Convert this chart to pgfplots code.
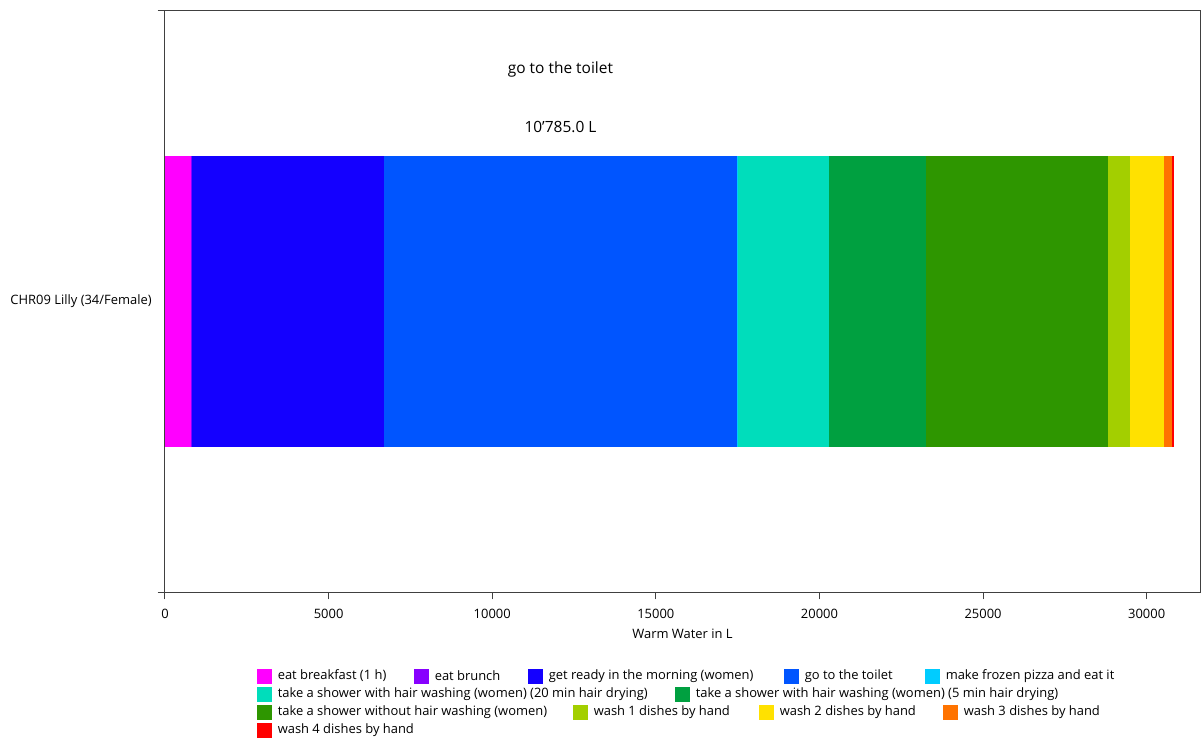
\documentclass[border=0pt]{standalone}
\usepackage{fontspec}
\setmainfont{Open Sans}
\usepackage{pgfplots}
\pgfplotsset{compat=1.18}
\definecolor{cBreak}{RGB}{255,0,255}
\definecolor{cBrunch}{RGB}{136,0,255}
\definecolor{cReady}{RGB}{20,0,255}
\definecolor{cToilet}{RGB}{0,85,255}
\definecolor{cPizza}{RGB}{0,204,255}
\definecolor{cShowA}{RGB}{0,221,187}
\definecolor{cShowB}{RGB}{0,160,64}
\definecolor{cShowC}{RGB}{46,150,0}
\definecolor{cWashA}{RGB}{163,207,0}
\definecolor{cWashB}{RGB}{255,225,0}
\definecolor{cWashC}{RGB}{255,115,0}
\definecolor{cWashD}{RGB}{255,0,0}
\definecolor{axgray}{RGB}{64,64,64}
\newcommand{\lf}{\fontsize{9.7}{11}\selectfont}
\begin{document}
\begin{tikzpicture}[x=0.75pt,y=-0.75pt]
\useasboundingbox (0,0) rectangle (1203,740);
\coordinate (O) at (165,592);
\begin{axis}[
  at={(O)}, anchor=south west,
  scale only axis, width=776.25pt, height=436.5pt,
  xbar stacked, bar width=0.5,
  ymin=-0.5, ymax=0.5, xmin=0, xmax=31630,
  axis line style={axgray, line width=0.75pt},
  xtick={0,5000,10000,15000,20000,25000,30000},
  scaled x ticks=false,
  xtick pos=bottom, ytick pos=left,
  tick align=outside, major tick length=5.5pt,
  tick style={axgray, line width=0.75pt},
  ytick={-0.5,0.5}, yticklabels={},
  extra y ticks={0}, extra y tick labels={CHR09 Lilly (34/Female)},
  extra y tick style={major tick length=0pt, yticklabel style={xshift=-6.5pt}},
  /pgf/number format/assume math mode=true,
  xticklabel style={font=\lf, /pgf/number format/1000 sep={}, yshift=-4pt},
  yticklabel style={font=\lf},
  xlabel={Warm Water in L},
  xlabel style={font=\lf, yshift=-0.5pt},
  clip=false,
]
\addplot[fill=cBreak, draw=none] coordinates {(780,0)};
\addplot[fill=cBrunch, draw=none] coordinates {(15,0)};
\addplot[fill=cReady, draw=none] coordinates {(5898,0)};
\addplot[fill=cToilet, draw=none] coordinates {(10785,0)};
\addplot[fill=cPizza, draw=none] coordinates {(25,0)};
\addplot[fill=cShowA, draw=none] coordinates {(2781,0)};
\addplot[fill=cShowB, draw=none] coordinates {(2974,0)};
\addplot[fill=cShowC, draw=none] coordinates {(5572,0)};
\addplot[fill=cWashA, draw=none] coordinates {(663,0)};
\addplot[fill=cWashB, draw=none] coordinates {(1039,0)};
\addplot[fill=cWashC, draw=none] coordinates {(244,0)};
\addplot[fill=cWashD, draw=none] coordinates {(52,0)};
\node[font=\fontsize{11.6}{13}\selectfont] at (axis cs:12085,0.3986) {go to the toilet};
\node[font=\fontsize{11.6}{13}\selectfont] at (axis cs:12085,0.299) {10'785.0 L};
\end{axis}
% legend
\tikzset{lsq/.style={minimum size=11.25pt, inner sep=0pt, anchor=west},
         ltx/.style={font=\lf, inner sep=0pt, anchor=west}}
\foreach \c/\x/\y/\t in {
  cBreak/257/676/{eat breakfast (1 h)},
  cBrunch/414/676/{eat brunch},
  cReady/528/676/{get ready in the morning (women)},
  cToilet/784/676/{go to the toilet},
  cPizza/925/676/{make frozen pizza and eat it},
  cShowA/257/694/{take a shower with hair washing (women) (20 min hair drying)},
  cShowB/675/694/{take a shower with hair washing (women) (5 min hair drying)},
  cShowC/257/712/{take a shower without hair washing (women)},
  cWashA/573/712/{wash 1 dishes by hand},
  cWashB/759/712/{wash 2 dishes by hand},
  cWashC/943/712/{wash 3 dishes by hand},
  cWashD/257/730/{wash 4 dishes by hand}}{
  \node[lsq, fill=\c] at (\x,\y) {};
  \node[ltx] at (\x+20.5,\y) {\t};
}
\end{tikzpicture}
\end{document}
